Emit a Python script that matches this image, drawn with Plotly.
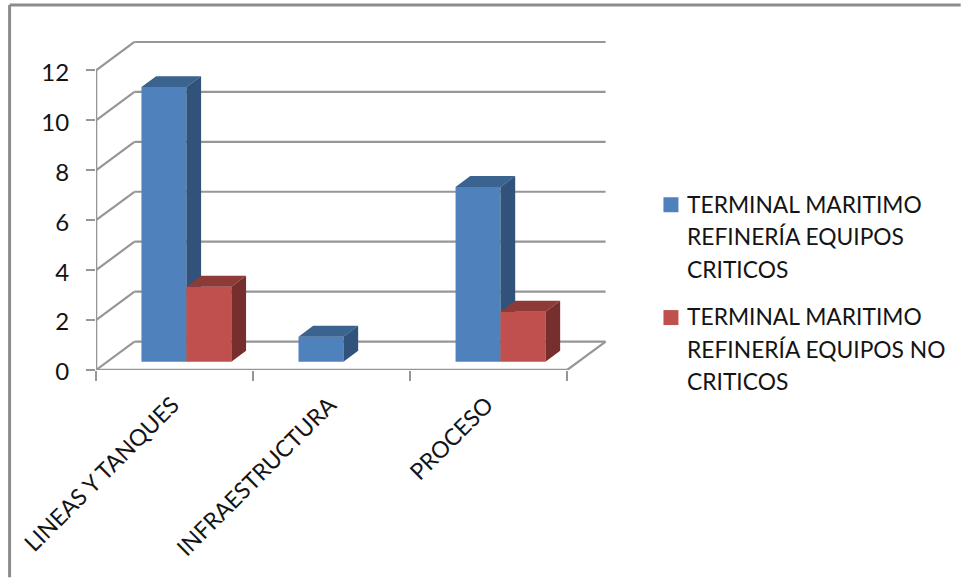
import plotly.graph_objects as go

# Chart data
categories = ["LINEAS Y TANQUES", "INFRAESTRUCTURA", "PROCESO"]
criticos = [11, 1, 7]
no_criticos = [3, 0, 2]
y_ticks = [0, 2, 4, 6, 8, 10, 12]
legend_lines_criticos = ["TERMINAL MARITIMO", "REFINERÍA EQUIPOS", "CRITICOS"]
legend_lines_no_criticos = ["TERMINAL MARITIMO", "REFINERÍA EQUIPOS NO", "CRITICOS"]

# Figure size and the pixel frame of the drawing area
W, H = 961, 578
LEFT, RIGHT, TOP, BOTTOM = 95.5, 620, 30, 370.5
CAT_PX = 157.2   # pixels per category
UNIT_PX = 25.0   # pixels per value unit
X_RANGE = [0, (RIGHT - LEFT) / CAT_PX]
Y_RANGE = [0, (BOTTOM - TOP) / UNIT_PX]

# Oblique projection offsets, in axis units
WALL_DX, WALL_DY = 38.5 / CAT_PX, 28.5 / UNIT_PX
BAR_DX, BAR_DY = 14.7 / CAT_PX, 11.0 / UNIT_PX
BAR_LIFT = 8.3 / UNIT_PX
BAR_WIDTH = 45.0 / CAT_PX
BAR_START = 45.5 / CAT_PX

GRID = "#969696"
TEXT = "#141414"
FONT = "Lato"
BLUE = dict(front="#4F81BD", top="#3A6390", side="#30527B")
RED = dict(front="#C0504D", top="#8E3A38", side="#772F2D")


def plot_frac_x(px):
    return (px - LEFT) / (RIGHT - LEFT)


def plot_frac_y(px):
    return (BOTTOM - px) / (BOTTOM - TOP)


def polyline(segments):
    xs, ys = [], []
    for (x0, y0), (x1, y1) in segments:
        xs += [x0, x1, None]
        ys += [y0, y1, None]
    return xs, ys


def add_series(fig, name, values, colors, slot, axis):
    """One cuboid per category: a bar for the front, filled polygons for top and side."""
    xref, yref = f"x{axis}", f"y{axis}"
    left_offset = BAR_START - 0.5 + slot * BAR_WIDTH
    centers = [i + 0.5 for i in range(len(values))]
    fig.add_trace(go.Bar(
        x=centers, y=values, base=BAR_LIFT, width=BAR_WIDTH, offset=left_offset,
        marker=dict(color=colors["front"], line=dict(width=0)),
        name=name, xaxis=xref, yaxis=yref,
    ))
    top_x, top_y, side_x, side_y = [], [], [], []
    for c, v in zip(centers, values):
        if v == 0:
            continue
        x0 = c + left_offset
        x1 = x0 + BAR_WIDTH
        y1 = v + BAR_LIFT
        top_x += [x0, x0 + BAR_DX, x1 + BAR_DX, x1, x0, None]
        top_y += [y1, y1 + BAR_DY, y1 + BAR_DY, y1, y1, None]
        side_x += [x1, x1 + BAR_DX, x1 + BAR_DX, x1, x1, None]
        side_y += [BAR_LIFT, BAR_LIFT + BAR_DY, y1 + BAR_DY, y1, BAR_LIFT, None]
    for xs, ys, col in ((top_x, top_y, colors["top"]), (side_x, side_y, colors["side"])):
        fig.add_trace(go.Scatter(
            x=xs, y=ys, mode="lines", fill="toself", fillcolor=col,
            line=dict(width=0, color=col), hoverinfo="skip",
            xaxis=xref, yaxis=yref,
        ))


fig = go.Figure()

# Walls and floor of the box
n = len(categories)
segments = []
for v in y_ticks:
    segments.append(((0, v), (WALL_DX, v + WALL_DY)))
    segments.append(((WALL_DX, v + WALL_DY), (n + WALL_DX, v + WALL_DY)))
segments.append(((n, 0), (n + WALL_DX, WALL_DY)))
gx, gy = polyline(segments)
fig.add_trace(go.Scatter(x=gx, y=gy, mode="lines", line=dict(color=GRID, width=2.2),
                         hoverinfo="skip", cliponaxis=False))

# Axis lines end at the last tick and the last category
ax, ay = polyline([((0, y_ticks[0]), (0, y_ticks[-1])), ((0, 0), (n, 0))])
fig.add_trace(go.Scatter(x=ax, y=ay, mode="lines", line=dict(color=GRID, width=2.6),
                         hoverinfo="skip", cliponaxis=False))

# Each series sits on its own overlay so the red front hides the blue side
add_series(fig, " ".join(legend_lines_criticos), criticos, BLUE, 0, 2)
add_series(fig, " ".join(legend_lines_no_criticos), no_criticos, RED, 1, 3)

overlay = dict(visible=False, fixedrange=True)

fig.update_layout(
    width=W, height=H, autosize=False,
    margin=dict(l=LEFT, r=W - RIGHT, t=TOP, b=H - BOTTOM, pad=0),
    paper_bgcolor="white", plot_bgcolor="white",
    showlegend=False, barmode="overlay",
    font=dict(family=FONT, color=TEXT, size=20),
    xaxis=dict(
        range=X_RANGE, showgrid=False, zeroline=False, showline=False,
        tickmode="array", tickvals=[i + 0.5 for i in range(n)], ticktext=categories,
        tickangle=-45, ticks="", ticklabelstandoff=16, ticklabelshift=-2,
        tickfont=dict(family=FONT, size=23, color=TEXT),
        minor=dict(tickmode="array", tickvals=list(range(n + 1)), ticks="outside",
                   ticklen=10, tickwidth=2.4, tickcolor=GRID, showgrid=False),
    ),
    yaxis=dict(
        range=Y_RANGE, showgrid=False, zeroline=False, showline=False,
        tickmode="array", tickvals=y_ticks, ticks="outside", ticklen=9,
        tickwidth=2.4, tickcolor=GRID, ticklabelstandoff=12, ticklabelshift=2,
        tickfont=dict(family=FONT, size=24, color=TEXT),
    ),
    xaxis2=dict(range=X_RANGE, overlaying="x", **overlay),
    yaxis2=dict(range=Y_RANGE, overlaying="y", **overlay),
    xaxis3=dict(range=X_RANGE, overlaying="x", **overlay),
    yaxis3=dict(range=Y_RANGE, overlaying="y", **overlay),
)

# Outer chart frame: only the top and left edges fall inside the page
frame = dict(type="line", xref="paper", yref="paper", line=dict(color="#8C8C8C", width=3), layer="below")
fig.add_shape(x0=plot_frac_x(9), x1=plot_frac_x(W), y0=plot_frac_y(5), y1=plot_frac_y(5), **frame)
fig.add_shape(x0=plot_frac_x(9), x1=plot_frac_x(9), y0=plot_frac_y(5), y1=plot_frac_y(H), **frame)

# Legend, laid out by hand for its wide line spacing
legend_blocks = [
    (legend_lines_criticos, BLUE["front"], [204, 236.7, 269.3], 205),
    (legend_lines_no_criticos, RED["front"], [316.7, 349, 381.7], 318),
]
for lines, color, line_ys, swatch_y in legend_blocks:
    fig.add_shape(type="rect", xref="paper", yref="paper",
                  x0=plot_frac_x(663.5), x1=plot_frac_x(678.5),
                  y0=plot_frac_y(swatch_y - 7.5), y1=plot_frac_y(swatch_y + 7.5),
                  fillcolor=color, line=dict(width=0))
    for text, ly in zip(lines, line_ys):
        fig.add_annotation(text=text, xref="paper", yref="paper",
                           x=plot_frac_x(685), y=plot_frac_y(ly), xanchor="left", yanchor="middle",
                           showarrow=False,
                           font=dict(family=FONT, size=22.8, color=TEXT))

fig.write_html("out.html", config=dict(displayModeBar=False))
